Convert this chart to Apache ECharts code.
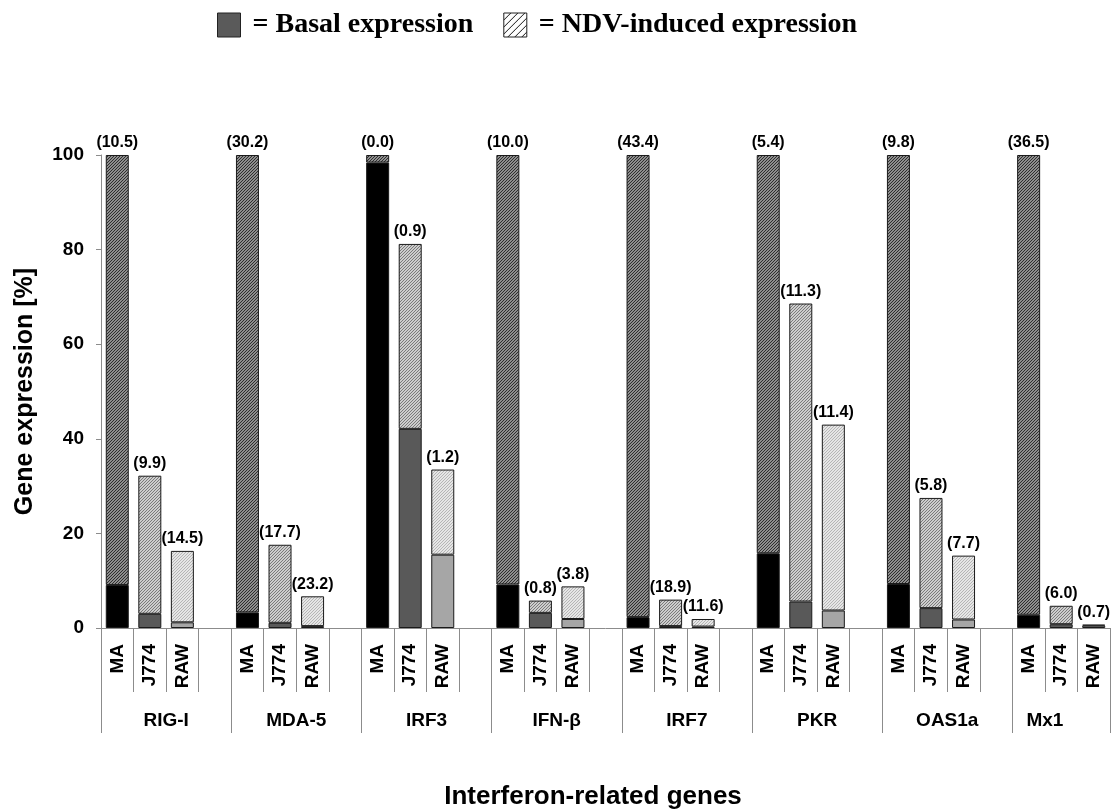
<!DOCTYPE html>
<html>
<head>
<meta charset="utf-8">
<script src="https://cdn.jsdelivr.net/npm/echarts@6/dist/echarts.min.js"></script>
<style>
html,body{margin:0;padding:0;background:#fff;}
#chart{width:1112px;height:809px;}
</style>
</head>
<body>
<div id="chart"></div>
<script>
// ---- data ----
const genes = ['RIG-I', 'MDA-5', 'IRF3', 'IFN-β', 'IRF7', 'PKR', 'OAS1a', 'Mx1'];
const cellLines = ['MA', 'J774', 'RAW'];
// basal expression (% of total), per gene
const basalMA   = [9.1, 3.3, 98.4, 9.2, 2.3, 15.8, 9.3, 2.8];
const basalJ774 = [3.0, 1.1, 42.1, 3.2, 0.4, 5.6, 4.2, 0.8];
const basalRAW  = [1.2, 0.4, 15.5, 1.9, 0.3, 3.7, 1.8, 0.5];
// total expression after NDV (basal + induced), per gene
const totalMA   = [100, 100, 100, 100, 100, 100, 100, 100];
const totalJ774 = [32.2, 17.6, 81.2, 5.8, 6.0, 68.6, 27.5, 4.7];
const totalRAW  = [16.3, 6.7, 33.5, 8.8, 1.9, 43.0, 15.3, 0.7];
// fold-induction numbers printed above bars
const foldMA   = [10.5, 30.2, 0.0, 10.0, 43.4, 5.4, 9.8, 36.5];
const foldJ774 = [9.9, 17.7, 0.9, 0.8, 18.9, 11.3, 5.8, 6.0];
const foldRAW  = [14.5, 23.2, 1.2, 3.8, 11.6, 11.4, 7.7, 0.7];
const yTicks = [0, 20, 40, 60, 80, 100];

// ---- build ----
const basal = [basalMA, basalJ774, basalRAW];
const total = [totalMA, totalJ774, totalRAW];
const fold = [foldMA, foldJ774, foldRAW];

function hatch(bg, line, size) {
  const c = document.createElement('canvas');
  c.width = size; c.height = size;
  const g = c.getContext('2d');
  g.fillStyle = bg; g.fillRect(0, 0, size, size);
  g.strokeStyle = line; g.lineWidth = 1;
  g.beginPath();
  g.moveTo(-1, size + 1); g.lineTo(size + 1, -1);
  g.moveTo(-1, 1); g.lineTo(1, -1);
  g.moveTo(size - 1, size + 1); g.lineTo(size + 1, size - 1);
  g.stroke();
  return { image: c, repeat: 'repeat' };
}
const basalColors = ['#000000', '#595959', '#a6a6a6'];
const inducedColors = [hatch('#8e8e8e', '#2e2e2e', 3), hatch('#cdcdcd', '#7a7a7a', 3), hatch('#e6e6e6', '#b5b5b5', 3)];
const edge = '#1a1a1a';

const slots = [];
const basalData = [];
const inducedData = [];
const labels = [];
genes.forEach((g, gi) => {
  cellLines.forEach((cl, ci) => {
    slots.push(g + '|' + cl);
    basalData.push({ value: basal[ci][gi], itemStyle: { color: basalColors[ci], borderColor: edge, borderWidth: 1 } });
    inducedData.push({ value: +(total[ci][gi] - basal[ci][gi]).toFixed(2), itemStyle: { color: inducedColors[ci], borderColor: edge, borderWidth: 1 } });
    labels.push('(' + fold[ci][gi].toFixed(1) + ')');
  });
  if (gi < genes.length - 1) {
    slots.push(g + '|');
    basalData.push('-');
    inducedData.push('-');
    labels.push('');
  }
});

// boundary axis for group dividers / gene names
const nBound = slots.length + 1;
const boundaries = [];
const longTick = {};
const labelAt = {};
let start = 0;
genes.forEach((g, gi) => {
  const n = gi < genes.length - 1 ? 4 : 3;
  longTick[start] = true;
  labelAt[Math.floor(start + n / 2)] = g;
  start += n;
});
longTick[slots.length] = true;
for (let b = 0; b < nBound; b++) boundaries.push(labelAt[b] ? labelAt[b] : 'b' + b);

const sans = '"Liberation Sans", Arial, Helvetica, sans-serif';
const axisGray = '#8c8c8c';

const chart = echarts.init(document.getElementById('chart'), null, { renderer: 'canvas' });
chart.setOption({
  animation: false,
  backgroundColor: '#fff',
  legend: {
    left: 212, top: 6,
    itemWidth: 23, itemHeight: 24, itemGap: 30,
    formatter: ' = {name}',
    textStyle: { fontFamily: '"Liberation Serif", "Times New Roman", serif', fontWeight: 'bold', fontSize: 28, color: '#000' },
    data: [
      { name: 'Basal expression', icon: 'rect', itemStyle: { color: '#5a5a5a', borderColor: '#222', borderWidth: 1 } },
      { name: 'NDV-induced expression', icon: 'rect', itemStyle: { color: hatch('#ffffff', '#111111', 7), borderColor: '#222', borderWidth: 1 } }
    ]
  },
  grid: { left: 101, right: 2, top: 155, bottom: 181, containLabel: false, outerBoundsMode: 'none' },
  xAxis: [
    {
      type: 'category', data: slots, boundaryGap: true, position: 'bottom',
      axisLine: { show: true, lineStyle: { color: axisGray, width: 1 } },
      axisTick: { show: true, interval: 0, length: 64, lineStyle: { color: axisGray } },
      axisLabel: {
        interval: 0, rotate: 90, margin: 16,
        formatter: v => v.split('|')[1] || '',
        fontFamily: sans, fontWeight: 'bold', fontSize: 19, color: '#000'
      }
    },
    {
      type: 'category', data: boundaries, boundaryGap: false, position: 'bottom',
      axisLine: { show: false },
      axisTick: { show: true, length: 105, interval: (i) => !!longTick[i], lineStyle: { color: axisGray } },
      axisLabel: {
        interval: (i) => !!labelAt[i], margin: 83,
        formatter: v => /^b\d+$/.test(v) ? '' : v,
        fontFamily: sans, fontWeight: 'bold', fontSize: 19, color: '#000'
      }
    }
  ],
  yAxis: {
    type: 'value', min: yTicks[0], max: yTicks[yTicks.length - 1], interval: yTicks[1] - yTicks[0],
    axisLine: { show: true, lineStyle: { color: axisGray } },
    axisTick: { show: true, length: 5, lineStyle: { color: axisGray } },
    splitLine: { show: false },
    axisLabel: { margin: 17, fontFamily: sans, fontWeight: 'bold', fontSize: 19, color: '#000' },
    name: 'Gene expression [%]', nameLocation: 'middle', nameGap: 63, nameRotate: 90,
    nameTextStyle: { fontFamily: sans, fontWeight: 'bold', fontSize: 25, color: '#000' }
  },
  graphic: [{
    type: 'text', x: 593, y: 797,
    style: { text: 'Interferon-related genes', font: 'bold 26px ' + sans, fill: '#000', align: 'center', verticalAlign: 'middle' }
  }],
  series: [
    {
      name: 'Basal expression', type: 'bar', stack: 'expr', xAxisIndex: 0, barWidth: 23,
      itemStyle: { color: '#5a5a5a' },
      data: basalData
    },
    {
      name: 'NDV-induced expression', type: 'bar', stack: 'expr', xAxisIndex: 0, barWidth: 23,
      itemStyle: { color: hatch('#ffffff', '#111111', 7) },
      label: {
        show: true, position: 'top', distance: 4,
        formatter: p => labels[p.dataIndex],
        fontFamily: sans, fontWeight: 'bold', fontSize: 16, color: '#000'
      },
      data: inducedData
    }
  ]
});
</script>
</body>
</html>
